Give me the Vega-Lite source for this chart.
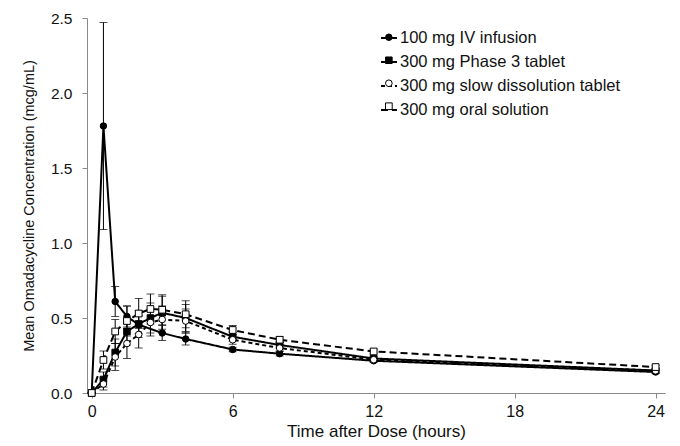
{
  "$schema": "https://vega.github.io/schema/vega-lite/v6.json",
  "width": 578,
  "height": 375,
  "autosize": "none",
  "padding": {"left": 87, "top": 18, "right": 15, "bottom": 53},
  "background": "white",
  "config": {
    "font": "Liberation Sans",
    "view": {"stroke": null},
    "axis": {"grid": false, "domainColor": "#8a8a8a", "tickColor": "#8a8a8a", "labelColor": "#111", "titleColor": "#111", "labelFont": "Liberation Sans", "titleFont": "Liberation Sans", "titleFontWeight": "normal"},
    "legend": {"labelFont": "Liberation Sans", "symbolOpacity": 1, "padding": 0}
  },
  "data": {
    "values": [
      {"series": "100 mg IV infusion", "time": 0, "mean": 0.0, "sd": 0.0},
      {"series": "100 mg IV infusion", "time": 0.5, "mean": 1.78, "sd": 0.69},
      {"series": "100 mg IV infusion", "time": 1, "mean": 0.61, "sd": 0.1},
      {"series": "100 mg IV infusion", "time": 1.5, "mean": 0.51, "sd": 0.07},
      {"series": "100 mg IV infusion", "time": 2, "mean": 0.455, "sd": 0.06},
      {"series": "100 mg IV infusion", "time": 3, "mean": 0.4, "sd": 0.05},
      {"series": "100 mg IV infusion", "time": 4, "mean": 0.36, "sd": 0.04},
      {"series": "100 mg IV infusion", "time": 6, "mean": 0.29, "sd": 0.015},
      {"series": "100 mg IV infusion", "time": 8, "mean": 0.262, "sd": 0.015},
      {"series": "100 mg IV infusion", "time": 12, "mean": 0.215, "sd": 0.01},
      {"series": "100 mg IV infusion", "time": 24, "mean": 0.14, "sd": 0.01},
      {"series": "300 mg Phase 3 tablet", "time": 0, "mean": 0.0, "sd": 0.0},
      {"series": "300 mg Phase 3 tablet", "time": 0.5, "mean": 0.09, "sd": 0.05},
      {"series": "300 mg Phase 3 tablet", "time": 1, "mean": 0.27, "sd": 0.09},
      {"series": "300 mg Phase 3 tablet", "time": 1.5, "mean": 0.41, "sd": 0.09},
      {"series": "300 mg Phase 3 tablet", "time": 2, "mean": 0.46, "sd": 0.09},
      {"series": "300 mg Phase 3 tablet", "time": 2.5, "mean": 0.5, "sd": 0.1},
      {"series": "300 mg Phase 3 tablet", "time": 3, "mean": 0.535, "sd": 0.11},
      {"series": "300 mg Phase 3 tablet", "time": 4, "mean": 0.5, "sd": 0.09},
      {"series": "300 mg Phase 3 tablet", "time": 6, "mean": 0.375, "sd": 0.03},
      {"series": "300 mg Phase 3 tablet", "time": 8, "mean": 0.32, "sd": 0.02},
      {"series": "300 mg Phase 3 tablet", "time": 12, "mean": 0.23, "sd": 0.015},
      {"series": "300 mg Phase 3 tablet", "time": 24, "mean": 0.15, "sd": 0.01},
      {"series": "300 mg slow dissolution tablet", "time": 0, "mean": 0.0, "sd": 0.0},
      {"series": "300 mg slow dissolution tablet", "time": 0.5, "mean": 0.06, "sd": 0.04},
      {"series": "300 mg slow dissolution tablet", "time": 1, "mean": 0.24, "sd": 0.09},
      {"series": "300 mg slow dissolution tablet", "time": 1.5, "mean": 0.33, "sd": 0.1},
      {"series": "300 mg slow dissolution tablet", "time": 2, "mean": 0.39, "sd": 0.09},
      {"series": "300 mg slow dissolution tablet", "time": 2.5, "mean": 0.47, "sd": 0.09},
      {"series": "300 mg slow dissolution tablet", "time": 3, "mean": 0.49, "sd": 0.09},
      {"series": "300 mg slow dissolution tablet", "time": 4, "mean": 0.48, "sd": 0.08},
      {"series": "300 mg slow dissolution tablet", "time": 6, "mean": 0.355, "sd": 0.03},
      {"series": "300 mg slow dissolution tablet", "time": 8, "mean": 0.3, "sd": 0.02},
      {"series": "300 mg slow dissolution tablet", "time": 12, "mean": 0.222, "sd": 0.015},
      {"series": "300 mg slow dissolution tablet", "time": 24, "mean": 0.148, "sd": 0.01},
      {"series": "300 mg oral solution", "time": 0, "mean": 0.0, "sd": 0.0},
      {"series": "300 mg oral solution", "time": 0.5, "mean": 0.22, "sd": 0.06},
      {"series": "300 mg oral solution", "time": 1, "mean": 0.41, "sd": 0.08},
      {"series": "300 mg oral solution", "time": 1.5, "mean": 0.48, "sd": 0.1},
      {"series": "300 mg oral solution", "time": 2, "mean": 0.53, "sd": 0.1},
      {"series": "300 mg oral solution", "time": 2.5, "mean": 0.56, "sd": 0.1},
      {"series": "300 mg oral solution", "time": 3, "mean": 0.555, "sd": 0.1},
      {"series": "300 mg oral solution", "time": 4, "mean": 0.525, "sd": 0.09},
      {"series": "300 mg oral solution", "time": 6, "mean": 0.42, "sd": 0.03},
      {"series": "300 mg oral solution", "time": 8, "mean": 0.355, "sd": 0.02},
      {"series": "300 mg oral solution", "time": 12, "mean": 0.277, "sd": 0.015},
      {"series": "300 mg oral solution", "time": 24, "mean": 0.173, "sd": 0.01}
    ]
  },
  "encoding": {
    "x": {
      "field": "time", "type": "quantitative",
      "scale": {"domain": [-0.2, 24.4], "nice": false, "zero": false},
      "axis": {"values": [0, 6, 12, 18, 24], "title": "Time after Dose (hours)", "titleFontSize": 17, "labelFontSize": 16, "tickSize": 5, "labelPadding": 5, "titlePadding": 4, "labelFlush": false}
    },
    "y": {
      "field": "mean", "type": "quantitative",
      "scale": {"domain": [0, 2.5], "nice": false},
      "axis": {"values": [0, 0.5, 1, 1.5, 2, 2.5], "format": ".1f", "title": "Mean Omadacycline Concentration (mcg/mL)", "titleFontSize": 14.5, "labelFontSize": 15.5, "tickSize": 5, "labelPadding": 10, "titlePadding": 14, "labelFlush": false}
    }
  },
  "layer": [
    {
      "mark": {"type": "errorbar", "ticks": {"size": 8, "thickness": 1, "color": "black"}, "rule": {"strokeWidth": 1, "color": "black"}},
      "encoding": {
        "yError": {"field": "sd"},
        "detail": {"field": "series"}
      }
    },
    {
      "mark": {"type": "line", "color": "black", "strokeWidth": 2},
      "encoding": {
        "strokeDash": {
          "field": "series", "type": "nominal",
          "scale": {
            "range": [[1, 0], [1, 0], [7, 4], [4, 3]]
          },
          "legend": {
            "title": null, "orient": "none", "legendX": 293, "legendY": 11,
            "values": ["100 mg IV infusion", "300 mg Phase 3 tablet", "300 mg slow dissolution tablet", "300 mg oral solution"],
            "symbolType": "stroke", "symbolSize": 256, "symbolStrokeWidth": 2, "symbolStrokeColor": "black",
            "labelFontSize": 16.5, "labelColor": "#111", "labelOffset": 2, "rowPadding": 6, "labelLimit": 300
          }
        }
      }
    },
    {
      "mark": {"type": "point", "stroke": "black", "strokeWidth": 1, "opacity": 1, "filled": false},
      "encoding": {
        "shape": {
          "field": "series", "type": "nominal",
          "scale": {
            "domain": ["100 mg IV infusion", "300 mg Phase 3 tablet", "300 mg slow dissolution tablet", "300 mg oral solution"],
            "range": ["circle", "square", "circle", "square"]
          },
          "legend": {
            "title": null, "orient": "none", "legendX": 293.6, "legendY": 11,
            "labelFontSize": 16.5, "labelOpacity": 0, "labelExpr": "' '", "labelOffset": 1, "rowPadding": 6, "labelLimit": 300,
            "symbolStrokeColor": "black", "symbolStrokeWidth": 1
          }
        },
        "fill": {
          "field": "series", "type": "nominal",
          "scale": {
            "domain": ["100 mg IV infusion", "300 mg Phase 3 tablet", "300 mg slow dissolution tablet", "300 mg oral solution"],
            "range": ["black", "black", "white", "white"]
          }
        },
        "size": {
          "field": "series", "type": "nominal",
          "scale": {
            "domain": ["100 mg IV infusion", "300 mg Phase 3 tablet", "300 mg slow dissolution tablet", "300 mg oral solution"],
            "range": [42, 45, 22, 45]
          }
        }
      }
    }
  ]
}
